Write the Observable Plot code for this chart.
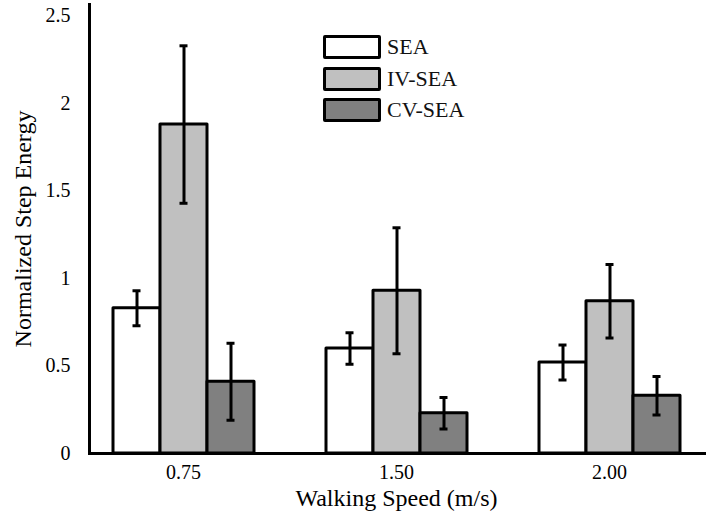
<!DOCTYPE html>
<html>
<head>
<meta charset="utf-8">
<script src="https://cdn.jsdelivr.net/npm/d3@7"></script>
<script src="https://cdn.jsdelivr.net/npm/@observablehq/plot@0.6"></script>
<style>
  html, body { margin: 0; padding: 0; background: white; }
  #wrap { position: relative; width: 706px; height: 512px; }
  #wrap svg [aria-label$="axis label"] text, #wrap svg g[aria-label$="axis label"] { font-size: 24px; }
  .legend { position: absolute; left: 323px; top: 35px; font-family: "Liberation Serif", "Times New Roman", serif; font-size: 22px; color: #111; }
  .legend .item { display: flex; align-items: center; height: 24px; margin-bottom: 7.5px; }
  .legend .sw { width: 52px; height: 18px; border: 3px solid black; border-radius: 2px; margin-right: 6px; }
</style>
</head>
<body>
<div id="wrap"></div>
<script>
const speeds = ["0.75", "1.50", "2.00"];
const series = ["SEA", "IV-SEA", "CV-SEA"];
const seaMean = [0.83, 0.60, 0.52];
const seaErr  = [0.10, 0.09, 0.10];
const ivMean  = [1.88, 0.93, 0.87];
const ivErr   = [0.45, 0.36, 0.21];
const cvMean  = [0.41, 0.23, 0.33];
const cvErr   = [0.22, 0.09, 0.11];
const colors  = ["#ffffff", "#c0c0c0", "#808080"];
const yTicks  = [0, 0.5, 1, 1.5, 2, 2.5];

const means = [seaMean, ivMean, cvMean];
const errs = [seaErr, ivErr, cvErr];
const rows = [];
speeds.forEach((sp, i) => {
  series.forEach((s, j) => {
    const m = means[j][i], e = errs[j][i];
    rows.push({speed: sp, series: s, mean: m, lo: m - e, hi: m + e});
  });
});

const chart = Plot.plot({
  width: 706,
  height: 512,
  marginLeft: 88,
  marginRight: 3,
  marginTop: 4,
  marginBottom: 59,
  style: {fontFamily: "'Liberation Serif', 'Times New Roman', serif", fontSize: "20px", color: "black", background: "white"},
  fx: {domain: speeds, paddingInner: 0.119, paddingOuter: 0},
  x: {domain: series, paddingInner: 0, paddingOuter: 0.486, axis: null},
  y: {domain: [0, 2.566]},
  color: {domain: series, range: colors},
  marks: [
    Plot.barY(rows, {fx: "speed", x: "series", y: "mean", fill: "series", stroke: "black", strokeWidth: 3, strokeLinejoin: "round"}),
    Plot.ruleX(rows, {fx: "speed", x: "series", y1: "lo", y2: "hi", stroke: "black", strokeWidth: 3}),
    Plot.tickY(rows, {fx: "speed", x: "series", y: "lo", stroke: "black", strokeWidth: 3, insetLeft: 19.5, insetRight: 19.5}),
    Plot.tickY(rows, {fx: "speed", x: "series", y: "hi", stroke: "black", strokeWidth: 3, insetLeft: 19.5, insetRight: 19.5}),
    Plot.axisY({ticks: yTicks, tickFormat: d3.format("~g"), tickSize: 0, tickPadding: 19, label: "Normalized Step Energy", labelAnchor: "center", labelArrow: "none", labelOffset: 76}),
    Plot.axisFx({anchor: "bottom", tickSize: 0, tickPadding: 11, label: "Walking Speed (m/s)", labelAnchor: "center", labelArrow: "none", labelOffset: 52}),
    Plot.frame({anchor: "left", facet: "super", stroke: "black", strokeWidth: 3}),
    Plot.frame({anchor: "bottom", facet: "super", stroke: "black", strokeWidth: 3, insetRight: -3})
  ]
});

const wrap = document.getElementById("wrap");
wrap.appendChild(chart);

const legend = document.createElement("div");
legend.className = "legend";
series.forEach((s, j) => {
  const item = document.createElement("div");
  item.className = "item";
  const sw = document.createElement("div");
  sw.className = "sw";
  sw.style.background = colors[j];
  const t = document.createElement("span");
  t.textContent = s;
  item.appendChild(sw);
  item.appendChild(t);
  legend.appendChild(item);
});
wrap.appendChild(legend);
</script>
</body>
</html>
